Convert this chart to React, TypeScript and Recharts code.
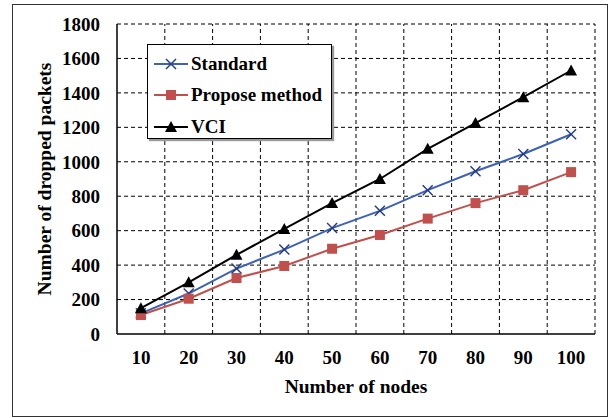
import React from 'react';
import { LineChart, Line, XAxis, YAxis, ReferenceLine } from 'recharts';

const nodes = [10, 20, 30, 40, 50, 60, 70, 80, 90, 100];
const standard = [120, 235, 380, 490, 615, 715, 835, 945, 1045, 1160];
const propose = [110, 205, 325, 395, 495, 575, 670, 760, 835, 940];
const vci = [150, 300, 460, 610, 760, 900, 1075, 1225, 1375, 1530];
const yTicks = [0, 200, 400, 600, 800, 1000, 1200, 1400, 1600, 1800];
const xBoundaries = [15, 25, 35, 45, 55, 65, 75, 85, 95, 105];

const data = nodes.map((n, i) => ({ n, standard: standard[i], propose: propose[i], vci: vci[i] }));

const FONT = '"Liberation Serif", "Times New Roman", serif';
const BLUE = '#3D62B3';
const NAVY = '#233A80';
const RED = '#C0504D';

const XDot = (p: any) => {
  const { cx, cy } = p;
  if (cx == null || cy == null) return null;
  const s = 5;
  return (
    <g>
      <line x1={cx - s} y1={cy - s} x2={cx + s} y2={cy + s} stroke={NAVY} strokeWidth={1.4} />
      <line x1={cx - s} y1={cy + s} x2={cx + s} y2={cy - s} stroke={NAVY} strokeWidth={1.4} />
    </g>
  );
};
const SqDot = (p: any) => {
  const { cx, cy } = p;
  if (cx == null || cy == null) return null;
  return <rect x={cx - 5} y={cy - 5} width={10} height={10} fill={RED} />;
};
const TriDot = (p: any) => {
  const { cx, cy } = p;
  if (cx == null || cy == null) return null;
  return <polygon points={`${cx},${cy - 6} ${cx - 6},${cy + 5} ${cx + 6},${cy + 5}`} fill="#000" />;
};

const legendItems = [
  { label: 'Standard', color: BLUE, mark: 'x' },
  { label: 'Propose method', color: RED, mark: 'sq' },
  { label: 'VCI', color: '#000', mark: 'tri' },
];

const LegendBox = () => (
  <div
    style={{
      position: 'absolute',
      left: 147,
      top: 44,
      width: 185,
      height: 95,
      border: '1.5px solid #000',
      background: '#fff',
      boxShadow: '2px 2px 1px #999',
      boxSizing: 'border-box',
      paddingTop: 3,
    }}
  >
    {legendItems.map((it) => (
      <div key={it.label} style={{ display: 'flex', alignItems: 'center', height: 31.5 }}>
        <svg width={42} height={20} style={{ marginLeft: 4 }}>
          <line x1={2} y1={10} x2={36} y2={10} stroke={it.color} strokeWidth={2} />
          {it.mark === 'x' && (
            <g>
              <line x1={14} y1={5} x2={24} y2={15} stroke={NAVY} strokeWidth={1.4} />
              <line x1={14} y1={15} x2={24} y2={5} stroke={NAVY} strokeWidth={1.4} />
            </g>
          )}
          {it.mark === 'sq' && <rect x={14} y={5} width={10} height={10} fill={RED} />}
          {it.mark === 'tri' && <polygon points="19,4 13,15 25,15" fill="#000" />}
        </svg>
        <span style={{ fontFamily: FONT, fontWeight: 'bold', fontSize: 19, color: '#000', marginLeft: -3 }}>
          {it.label}
        </span>
      </div>
    ))}
  </div>
);

export default function App() {
  return (
    <div style={{ position: 'absolute', left: 0, top: 0, width: 614, height: 418, background: '#fff' }}>
      <div
        style={{
          position: 'absolute',
          left: 12,
          top: 4,
          width: 596,
          height: 413,
          border: '1.5px solid #333',
          boxSizing: 'border-box',
        }}
      />
      <div style={{ position: 'absolute', left: 0, top: 0 }}>
        <LineChart width={614} height={418} data={data} margin={{ top: 24, right: 19, bottom: 54, left: 57 }}>
          {yTicks.slice(1).map((v) => (
            <ReferenceLine key={'h' + v} y={v} stroke="#000" strokeWidth={1} strokeDasharray="4 3" />
          ))}
          {xBoundaries.map((v) => (
            <ReferenceLine key={'v' + v} x={v} stroke="#000" strokeWidth={1} strokeDasharray="4 3" />
          ))}
          <XAxis
            dataKey="n"
            type="number"
            domain={[5, 105]}
            ticks={nodes}
            interval={0}
            tickLine={false}
            tickSize={0}
            tickMargin={17}
            axisLine={{ stroke: '#000', strokeWidth: 1.5 }}
            tick={{ fill: '#000', fontFamily: FONT, fontWeight: 'bold', fontSize: 19 }}
            label={(props: any) => {
              const vb = props.viewBox;
              return (
                <text
                  x={vb.x + vb.width / 2}
                  y={393}
                  textAnchor="middle"
                  fontFamily={FONT}
                  fontWeight="bold"
                  fontSize={19.5}
                  fill="#000"
                >
                  Number of nodes
                </text>
              );
            }}
          />
          <YAxis
            width={60}
            domain={[0, 1800]}
            ticks={yTicks}
            interval={0}
            tickLine={false}
            tickSize={0}
            tickMargin={17}
            axisLine={{ stroke: '#000', strokeWidth: 1.5 }}
            tick={{ fill: '#000', fontFamily: FONT, fontWeight: 'bold', fontSize: 19 }}
            label={(props: any) => {
              const vb = props.viewBox;
              const cy = vb.y + vb.height / 2;
              return (
                <text
                  x={51}
                  y={cy}
                  transform={`rotate(-90, 51, ${cy})`}
                  textAnchor="middle"
                  fontFamily={FONT}
                  fontWeight="bold"
                  fontSize={19.5}
                  fill="#000"
                >
                  Number of dropped packets
                </text>
              );
            }}
          />
          <Line dataKey="standard" stroke={BLUE} strokeWidth={2} dot={<XDot />} isAnimationActive={false} />
          <Line dataKey="propose" stroke={RED} strokeWidth={2} dot={<SqDot />} isAnimationActive={false} />
          <Line dataKey="vci" stroke="#000" strokeWidth={2} dot={<TriDot />} isAnimationActive={false} />
        </LineChart>
      </div>
      <LegendBox />
    </div>
  );
}
